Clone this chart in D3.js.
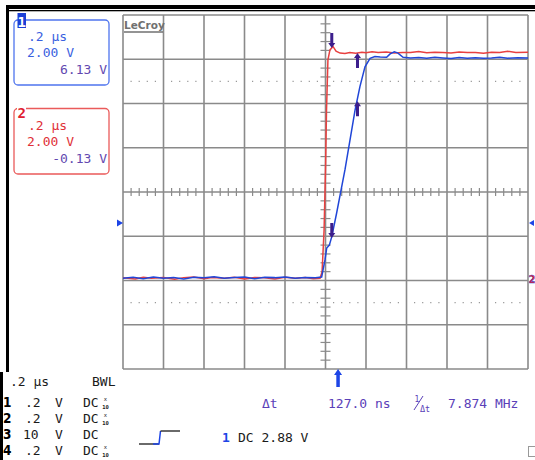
<!DOCTYPE html>
<html><head><meta charset="utf-8">
<script src="https://cdn.jsdelivr.net/npm/d3@7"></script>
<style>body{margin:0;background:#fff;}svg{display:block;}</style>
</head><body>
<script>
// ---------- DATA ----------
// time in ns relative to screen centre, voltage in V (ground = 0 V)
const redT = [-1000,-940,-900,-860,-800,-745,-700,-650,-600,-560,-500,-450,-400,-350,-300,-250,-200,-150,-100,-60,-27,-17,-7,0,5,12,22,37,52,72,96,120,150,180,200,230,260,300,340,380,420,460,500,540,580,620,660,700,740,780,820,860,900,940,1000];
const redV = [0.02,-0.03,0.05,0,0.04,-0.04,0.03,0.06,-0.02,0.04,0,0.05,-0.03,0.04,0.02,-0.03,0.05,0,0.04,-0.02,0,0.28,2.18,4.9,7.6,9.87,10.32,10.48,10.27,10.18,10.16,10.2,10.17,10.22,10.19,10.24,10.2,10.23,10.18,10.21,10.2,10.25,10.19,10.22,10.2,10.18,10.23,10.2,10.21,10.17,10.22,10.2,10.26,10.2,10.22];
const blueT = [-1000,-950,-900,-850,-800,-750,-700,-650,-600,-550,-500,-450,-400,-350,-300,-250,-200,-150,-100,-50,-19,-2.5,6,19,31,55,72,96,146,170,195,220,244,270,302,319,340,358,383,420,460,500,540,580,620,660,700,740,780,820,860,900,950,1000];
const blueV = [0,0.05,-0.02,0.06,0,0.04,-0.03,0.05,0.02,0.07,0,0.04,0.06,-0.02,0.05,0.03,0.06,0,0.04,0.02,0.06,0.83,1.37,1.5,1.88,2.95,3.76,4.9,7.6,8.66,9.56,9.94,10.02,10.0,9.99,10.14,10.24,10.18,9.99,9.96,9.98,9.95,9.99,9.96,9.93,9.98,9.95,9.97,9.94,9.96,9.99,9.95,9.97,9.96];
// cursor markers (time ns, level V, direction)
const cursorT = [31, 31, 158, 158];
const cursorV = [10.41, 1.82, 10.18, 8.0];
const cursorDir = ["down", "down", "up", "up"];
const triggerT = 62;
const triggerLevelV = 2.5;
// readouts
const ch1Box = [".2 µs", "2.00 V", "6.13 V"];
const ch2Box = [".2 µs", "2.00 V", "-0.13 V"];
const chanRows = [["1", ".2", "V", "DC", true], ["2", ".2", "V", "DC", true], ["3", "10", "V", "DC", false], ["4", ".2", "V", "DC", true]];
const timebase = ".2 µs";
const deltaT = "127.0 ns";
const freq = "7.874 MHz";
const trigText = "DC 2.88 V";

// ---------- SETUP ----------
const W = 535, H = 460;
const svg = d3.select("body").append("svg").attr("width", W).attr("height", H);
const L = 123, R = 528, T = 15, B = 369;
const x = d3.scaleLinear().domain([-1000, 1000]).range([L, R]);
const xDiv = d3.scaleLinear().domain([-5, 5]).range([L, R]);
const yDiv = d3.scaleLinear().domain([-4, 4]).range([B, T]);
const y = d3.scaleLinear().domain([-4.1, 11.9]).range([B, T]);
const mono = "'DejaVu Sans Mono', monospace";
const gridC = "#8a8a8a";

// outer black frame
svg.append("rect").attr("x", 6).attr("y", 5).attr("width", W - 6).attr("height", 4).attr("fill", "#000");
svg.append("rect").attr("x", 9).attr("y", 10).attr("width", W - 9).attr("height", 1.3).attr("fill", "#000");
svg.append("rect").attr("x", 6).attr("y", 5).attr("width", 3).attr("height", 367).attr("fill", "#000");
svg.append("rect").attr("x", 0).attr("y", 372).attr("width", 3).attr("height", H - 372).attr("fill", "#000");

// grid
const g = svg.append("g");
g.selectAll(".vl").data(d3.range(-5, 6)).join("line")
  .attr("x1", d => xDiv(d)).attr("x2", d => xDiv(d)).attr("y1", T).attr("y2", B)
  .attr("stroke", gridC).attr("stroke-width", 1.6);
g.selectAll(".hl").data(d3.range(-4, 5)).join("line")
  .attr("y1", d => yDiv(d)).attr("y2", d => yDiv(d)).attr("x1", L).attr("x2", R)
  .attr("stroke", gridC).attr("stroke-width", 1.6);
// centre ticks
const subX = d3.range(-5, 5, 0.2).filter(d => Math.abs(d - Math.round(d)) > 0.01);
const subY = d3.range(-4, 4, 0.2).filter(d => Math.abs(d - Math.round(d)) > 0.01);
g.selectAll(".tx").data(subX).join("line")
  .attr("x1", d => xDiv(d)).attr("x2", d => xDiv(d)).attr("y1", yDiv(0) - 4).attr("y2", yDiv(0) + 4)
  .attr("stroke", gridC).attr("stroke-width", 1.2);
g.selectAll(".ty").data(subY).join("line")
  .attr("y1", d => yDiv(d)).attr("y2", d => yDiv(d)).attr("x1", xDiv(0) - 5).attr("x2", xDiv(0) + 5)
  .attr("stroke", gridC).attr("stroke-width", 1.2);
// dotted lines
[2.5, -2.5].forEach(lv => {
  g.selectAll(null).data(subX).join("line")
    .attr("x1", d => xDiv(d) - 0.6).attr("x2", d => xDiv(d) + 0.6)
    .attr("y1", yDiv(lv)).attr("y2", yDiv(lv))
    .attr("stroke", "#999").attr("stroke-width", 1.2);
});

// LeCroy label
svg.append("text").attr("x", 124).attr("y", 29).text("LeCroy")
  .attr("font-family", "'DejaVu Sans', sans-serif").attr("font-weight", "bold")
  .attr("font-size", 10.5).attr("fill", "#707070");
svg.append("line").attr("x1", 124).attr("x2", 163).attr("y1", 32).attr("y2", 32)
  .attr("stroke", "#707070").attr("stroke-width", 1.3);

// traces
const line = d3.line().x(d => x(d[0])).y(d => y(d[1]));
svg.append("path").datum(redT.map((t, i) => [t, redV[i]])).attr("d", line)
  .attr("fill", "none").attr("stroke", "#e8403f").attr("stroke-width", 1.5);
svg.append("path").datum(blueT.map((t, i) => [t, blueV[i]])).attr("d", line)
  .attr("fill", "none").attr("stroke", "#2046d8").attr("stroke-width", 1.5);

// arrows
function arrowPath(tx, ty, dir, len, sw, hw, hh) {
  const s = dir === "up" ? 1 : -1;
  return `M${tx},${ty} L${tx + hw / 2},${ty + s * hh} L${tx + sw / 2},${ty + s * hh} L${tx + sw / 2},${ty + s * len} L${tx - sw / 2},${ty + s * len} L${tx - sw / 2},${ty + s * hh} L${tx - hw / 2},${ty + s * hh} Z`;
}
svg.selectAll(".cur").data(cursorT.map((t, i) => ({t, v: cursorV[i], d: cursorDir[i]}))).join("path")
  .attr("d", d => arrowPath(x(d.t), y(d.v), d.d, 15, 3, 7, 5)).attr("fill", "#3c1e8c");
svg.append("path").attr("d", arrowPath(x(triggerT), B, "up", 18, 3.5, 8, 6)).attr("fill", "#1d45e6");

// level markers
svg.append("path").attr("d", `M${L - 6},${y(triggerLevelV) - 3.5} L${L},${y(triggerLevelV)} L${L - 6},${y(triggerLevelV) + 3.5} Z`).attr("fill", "#1d45e6");
svg.append("path").attr("d", `M${R + 1},${y(triggerLevelV)} L${R + 6},${y(triggerLevelV) - 3} L${R + 6},${y(triggerLevelV) + 3} Z`).attr("fill", "#1d45e6");
svg.append("text").attr("x", 528.5).attr("y", y(0) + 5).text("2").attr("font-family", "'DejaVu Sans Condensed', 'DejaVu Sans', sans-serif")
  .attr("font-weight", "bold").attr("font-size", 11).attr("fill", "#e02030")
  .attr("stroke", "#2046d8").attr("stroke-width", 0.4);

// channel boxes
function box(y0, h, stroke, labelColor, labelFill, label, lines, colors) {
  svg.append("rect").attr("x", 14).attr("y", y0).attr("width", 95).attr("height", h)
    .attr("rx", 4).attr("fill", "#fff").attr("stroke", stroke).attr("stroke-width", 1.3);
  if (labelFill) {
    svg.append("rect").attr("x", 17.5).attr("y", y0 - 7).attr("width", 8.5).attr("height", 15).attr("fill", labelFill);
  } else {
    svg.append("rect").attr("x", 17).attr("y", y0 - 3).attr("width", 9).attr("height", 6).attr("fill", "#fff");
  }
  svg.append("text").attr("x", 21.7).attr("y", y0 + (labelFill ? 6.5 : 9)).attr("text-anchor", "middle")
    .text(label).attr("font-family", mono).attr("font-weight", "bold").attr("font-size", 14).attr("fill", labelColor);
  const bl = [y0 + 21, y0 + 37, y0 + 54];
  svg.append("text").attr("x", 28).attr("y", bl[0]).text(lines[0]).attr("font-family", mono).attr("font-size", 13).attr("fill", colors[0]);
  svg.append("text").attr("x", 27).attr("y", bl[1]).text(lines[1]).attr("font-family", mono).attr("font-size", 13).attr("fill", colors[1]);
  svg.append("text").attr("x", 107).attr("y", bl[2]).attr("text-anchor", "end").text(lines[2]).attr("font-family", mono).attr("font-size", 13).attr("fill", colors[2]);
}
box(20, 65, "#4f74ee", "#fff", "#1a3fd6", "1", ch1Box, ["#3a5fe0", "#3a5fe0", "#6248b0"]);
box(108.5, 65.5, "#ea5a5a", "#e02030", null, "2", ch2Box, ["#e03038", "#e03038", "#6248b0"]);

// bottom readouts
const blk = "#1a1a1a";
svg.append("text").attr("x", 10).attr("y", 386).text(timebase).attr("font-family", mono).attr("font-size", 13).attr("fill", blk);
svg.append("text").attr("x", 92).attr("y", 386).text("BWL").attr("font-family", mono).attr("font-size", 13).attr("fill", blk);
const rowY = [407, 423, 439, 455];
chanRows.forEach((r, i) => {
  const yy = rowY[i];
  svg.append("text").attr("x", 3).attr("y", yy).text(r[0]).attr("font-family", "'DejaVu Sans Condensed', 'DejaVu Sans', sans-serif")
    .attr("font-weight", "bold").attr("font-size", 13.5).attr("fill", "#000");
  svg.append("text").attr("x", r[1] === "10" ? 23 : 25).attr("y", yy).text(r[1]).attr("font-family", mono).attr("font-size", 13).attr("fill", blk);
  svg.append("text").attr("x", 55).attr("y", yy).text(r[2]).attr("font-family", mono).attr("font-size", 13).attr("fill", blk);
  svg.append("text").attr("x", 83).attr("y", yy).text(r[3]).attr("font-family", mono).attr("font-size", 13).attr("fill", blk);
  if (r[4]) {
    svg.append("text").attr("x", 105.5).attr("y", yy - 6).attr("text-anchor", "middle").text("x").attr("font-family", mono).attr("font-size", 5.5).attr("fill", blk);
    svg.append("text").attr("x", 105.5).attr("y", yy + 2).attr("text-anchor", "middle").text("10").attr("font-family", mono).attr("font-weight", "bold").attr("font-size", 5.5).attr("fill", blk);
  }
});

// delta t row
const pur = "#5a40b8";
svg.append("text").attr("x", 262).attr("y", 408).text("Δt").attr("font-family", mono).attr("font-size", 13).attr("fill", pur);
svg.append("text").attr("x", 328).attr("y", 408).text(deltaT).attr("font-family", mono).attr("font-size", 13).attr("fill", pur);
svg.append("text").attr("x", 414.5).attr("y", 402).text("1").attr("font-family", mono).attr("font-size", 8).attr("fill", pur);
svg.append("line").attr("x1", 414).attr("y1", 410).attr("x2", 423).attr("y2", 396).attr("stroke", pur).attr("stroke-width", 1);
svg.append("text").attr("x", 420).attr("y", 412).text("Δt").attr("font-family", mono).attr("font-size", 8.5).attr("fill", pur);
svg.append("text").attr("x", 448).attr("y", 408).text(freq).attr("font-family", mono).attr("font-size", 13).attr("fill", pur);

// trigger row
svg.append("path").attr("d", "M139,444 L159,444").attr("stroke", blk).attr("stroke-width", 1.3).attr("fill", "none");
svg.append("path").attr("d", "M153,444 L159,444 L160.5,431").attr("stroke", "#1d45e6").attr("stroke-width", 1.5).attr("fill", "none");
svg.append("path").attr("d", "M160.5,431 L180,431").attr("stroke", blk).attr("stroke-width", 1.3).attr("fill", "none");
svg.append("text").attr("x", 222).attr("y", 442).text("1").attr("font-family", mono).attr("font-weight", "bold").attr("font-size", 13).attr("fill", "#1d45e6");
svg.append("text").attr("x", 238).attr("y", 442).text(trigText).attr("font-family", mono).attr("font-size", 13).attr("fill", blk);

// small square bottom right
svg.append("rect").attr("x", 528.5).attr("y", 446.5).attr("width", 10).attr("height", 10).attr("fill", "none").attr("stroke", "#999").attr("stroke-width", 1);
</script>
</body></html>
